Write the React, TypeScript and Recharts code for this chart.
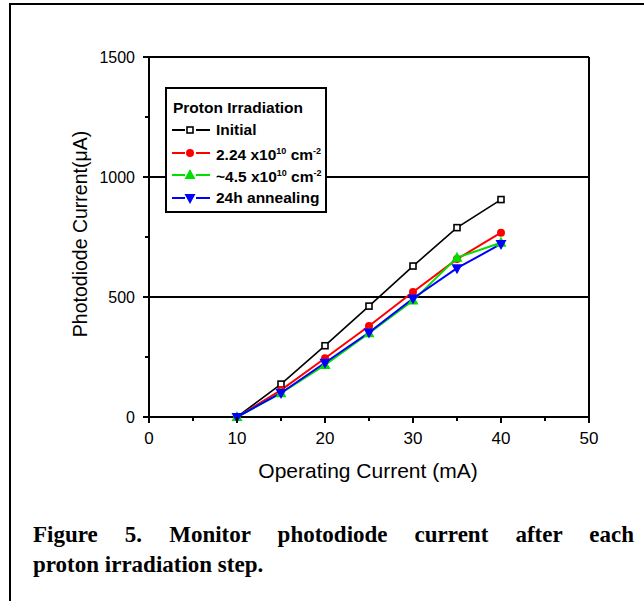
import React from "react";
import { LineChart, Line, XAxis, YAxis, ReferenceLine } from "recharts";

// operating current (mA) and monitor photodiode current (uA) per irradiation step
const operatingCurrent = [10, 15, 20, 25, 30, 35, 40];
const initial = [0, 137, 297, 462, 629, 789, 906];
const fluence224 = [0, 112, 245, 379, 521, 658, 768];
const fluence45 = [0, 99, 217, 349, 485, 664, 726];
const annealing24h = [0, 100, 226, 352, 494, 620, 721];

const xTicks = [0, 5, 10, 15, 20, 25, 30, 35, 40, 45, 50];
const yTicks = [0, 250, 500, 750, 1000, 1250, 1500];
const gridLines = [500, 1000];

const data = operatingCurrent.map((x, i) => ({
  x,
  initial: initial[i],
  f224: fluence224[i],
  f45: fluence45[i],
  ann: annealing24h[i],
}));

const sans = "'Liberation Sans', Arial, sans-serif";
const serif = "'Liberation Serif', 'Times New Roman', serif";

const XTick = (props: any) => {
  const { x, y, payload } = props;
  const major = payload.value % 10 === 0;
  return (
    <g>
      <line x1={x} x2={x} y1={y} y2={y + (major ? 6 : 4)} stroke="#000" strokeWidth={2} />
      {major && (
        <text x={x} y={y + 21} textAnchor="middle" dominantBaseline="central" fontSize={17} fontFamily={sans} fill="#000">
          {payload.value}
        </text>
      )}
    </g>
  );
};

const YTick = (props: any) => {
  const { x, y, payload } = props;
  const major = payload.value % 500 === 0;
  return (
    <g>
      <line x1={x} x2={x - (major ? 6 : 4)} y1={y} y2={y} stroke="#000" strokeWidth={2} />
      {major && (
        <text x={x - 14} y={y} textAnchor="end" dominantBaseline="central" fontSize={16} fontFamily={sans} fill="#000">
          {payload.value}
        </text>
      )}
    </g>
  );
};

const SquareDot = (p: any) => (
  <rect key={p.index} x={p.cx - 3} y={p.cy - 3} width={6} height={6} fill="#fff" stroke="#000" strokeWidth={1.6} />
);
const CircleDot = (p: any) => <circle key={p.index} cx={p.cx} cy={p.cy} r={4} fill="#ff0000" />;
const UpDot = (p: any) => (
  <path key={p.index} d={`M${p.cx},${p.cy - 6} L${p.cx + 5.5},${p.cy + 4} L${p.cx - 5.5},${p.cy + 4} Z`} fill="#00e000" />
);
const DownDot = (p: any) => (
  <path key={p.index} d={`M${p.cx},${p.cy + 6} L${p.cx + 5.5},${p.cy - 4} L${p.cx - 5.5},${p.cy - 4} Z`} fill="#0000ff" />
);

const sup = { fontSize: 9, verticalAlign: 6 } as const;

const legendItems = [
  { label: <>Initial</>, color: "#000", marker: <rect x={15} y={4} width={6} height={6} fill="#fff" stroke="#000" strokeWidth={1.6} /> },
  {
    label: <>2.24 x10<span style={sup}>10</span> cm<span style={sup}>-2</span></>,
    color: "#ff0000",
    marker: <circle cx={18} cy={7} r={4} fill="#ff0000" />,
  },
  {
    label: <>~4.5 x10<span style={sup}>10</span> cm<span style={sup}>-2</span></>,
    color: "#00e000",
    marker: <path d="M18,1 L23.5,11 L12.5,11 Z" fill="#00e000" />,
  },
  { label: <>24h annealing</>, color: "#0000ff", marker: <path d="M18,13 L23.5,3 L12.5,3 Z" fill="#0000ff" /> },
];

export default function App() {
  return (
    <div style={{ position: "absolute", left: 0, top: 0, width: 644, height: 601, background: "#fff", overflow: "hidden" }}>
      {/* page frame */}
      <div style={{ position: "absolute", left: 9, top: 3, width: 640, height: 600, borderTop: "2px solid #000", borderLeft: "2px solid #000" }} />

      <div style={{ position: "absolute", left: 0, top: 0 }}>
        <LineChart width={644} height={601} data={data} margin={{ top: 57, right: 55, left: 99, bottom: 124 }}>
          <XAxis
            dataKey="x"
            type="number"
            domain={[0, 50]}
            ticks={xTicks}
            interval={0}
            height={60}
            tickSize={0}
            tickMargin={0}
            tickLine={false}
            tick={<XTick />}
            axisLine={{ stroke: "#000", strokeWidth: 2 }}
            label={(p: any) => (
              <text x={p.viewBox.x + p.viewBox.width / 2 - 1} y={p.viewBox.y + 53} textAnchor="middle" dominantBaseline="central" fontSize={21} fontFamily={sans} fill="#000">
                Operating Current (mA)
              </text>
            )}
          />
          <YAxis
            type="number"
            domain={[0, 1500]}
            ticks={yTicks}
            interval={0}
            width={50}
            tickSize={0}
            tickMargin={0}
            tickLine={false}
            tick={<YTick />}
            axisLine={{ stroke: "#000", strokeWidth: 2 }}
            label={(p: any) => {
              const cx = p.viewBox.x - 19;
              const cy = p.viewBox.y + p.viewBox.height / 2 - 3;
              return (
                <text x={cx} y={cy} transform={`rotate(-90 ${cx} ${cy})`} textAnchor="middle" dominantBaseline="central" fontSize={19.5} fontFamily={sans} fill="#000">
                  Photodiode Current(μA)
                </text>
              );
            }}
          />
          {gridLines.map((v) => (
            <ReferenceLine key={v} y={v} stroke="#000" strokeWidth={2} />
          ))}
          <ReferenceLine y={1500} stroke="#000" strokeWidth={2} />
          <ReferenceLine x={50} stroke="#000" strokeWidth={2} />
          <Line dataKey="initial" stroke="#000" strokeWidth={1.6} dot={SquareDot} isAnimationActive={false} />
          <Line dataKey="f224" stroke="#ff0000" strokeWidth={2} dot={CircleDot} isAnimationActive={false} />
          <Line dataKey="f45" stroke="#00e000" strokeWidth={2} dot={UpDot} isAnimationActive={false} />
          <Line dataKey="ann" stroke="#0000ff" strokeWidth={2} dot={DownDot} isAnimationActive={false} />
        </LineChart>
      </div>

      {/* legend box */}
      <div
        style={{
          position: "absolute",
          left: 165,
          top: 87,
          width: 158,
          height: 122,
          border: "2px solid #000",
          background: "#fff",
          fontFamily: sans,
          fontWeight: "bold",
          fontSize: 15.5,
          color: "#000",
        }}
      >
        <div style={{ position: "absolute", left: 6, top: 10, lineHeight: "18px", whiteSpace: "nowrap" }}>Proton Irradiation</div>
        {legendItems.map((item, i) => (
          <div key={i} style={{ position: "absolute", left: 5, top: 32 + i * 22.5, height: 18, display: "flex", alignItems: "center", whiteSpace: "nowrap" }}>
            <svg width={42} height={14} style={{ marginRight: 2 }}>
              <line x1={0} x2={13} y1={7} y2={7} stroke={item.color} strokeWidth={2} />
              <line x1={24} x2={38} y1={7} y2={7} stroke={item.color} strokeWidth={2} />
              {item.marker}
            </svg>
            <span style={{ lineHeight: "18px" }}>{item.label}</span>
          </div>
        ))}
      </div>

      {/* caption */}
      <div
        style={{
          position: "absolute",
          left: 33,
          top: 520,
          width: 601,
          fontFamily: serif,
          fontWeight: "bold",
          fontSize: 23,
          lineHeight: "30px",
          color: "#000",
        }}
      >
        <div style={{ textAlign: "justify", textAlignLast: "justify" }}>Figure 5. Monitor photodiode current after each</div>
        <div>proton irradiation step.</div>
      </div>
    </div>
  );
}
